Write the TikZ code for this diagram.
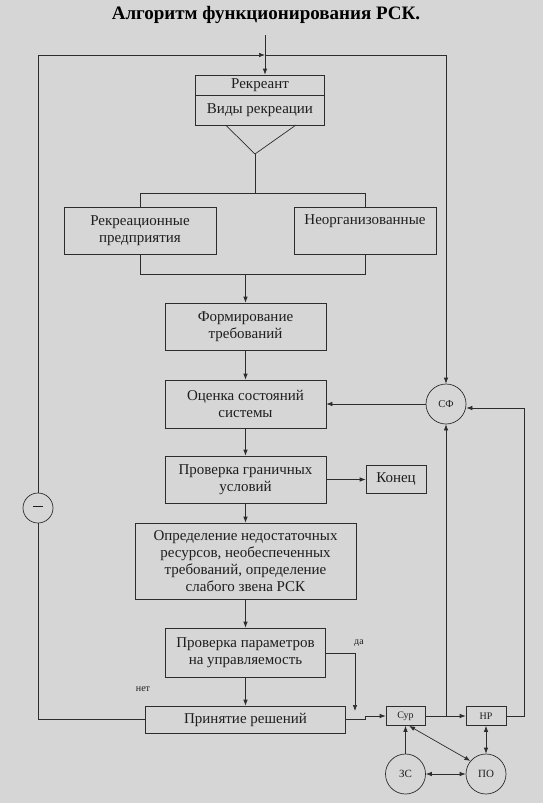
\documentclass[tikz,border=0pt]{standalone}
\usepackage{fontspec}
\setmainfont{Liberation Serif}
\usetikzlibrary{arrows.meta,calc}
\definecolor{bg}{RGB}{214,214,214}
\definecolor{ln}{RGB}{45,45,45}
\definecolor{tx}{RGB}{30,30,30}
\begin{document}
\begin{tikzpicture}[x=1pt,y=-1pt,
  line width=0.7pt, draw=ln,
  arr/.style={-{Latex[length=6pt,width=4.5pt]}},
  darr/.style={{Latex[length=6pt,width=4.5pt]}-{Latex[length=6pt,width=4.5pt]}},
  box/.style={draw=ln, rectangle, inner sep=0pt, align=center, text=tx,
     font=\fontsize{15}{17}\selectfont},
  sbox/.style={draw=ln, rectangle, inner sep=0pt, align=center, text=tx,
     font=\fontsize{10}{12}\selectfont},
  circ/.style={draw=ln, circle, inner sep=0pt, text=tx,
     font=\fontsize{10.5}{12}\selectfont},
  lbl/.style={text=tx, inner sep=0pt, font=\fontsize{10}{12}\selectfont}]
\fill[bg] (0,0) rectangle (543,803);
\useasboundingbox (0,0) rectangle (543,803);

\node[text=black, font=\fontsize{19}{21}\bfseries\selectfont] (title) at (266,15) {Алгоритм функционирования РСК.};

% coordinates
\coordinate (in) at (265,35);
\coordinate (jn) at (265,55);
\coordinate (tl) at (38,55);
\coordinate (tr) at (446,55);
\coordinate (trl) at (225.6,125);
\coordinate (trr) at (296,125);
\coordinate (apex) at (255,154);
\coordinate (hs) at (255,193);
\coordinate (hl) at (140,193);
\coordinate (hr) at (365,193);
\coordinate (bl) at (140,274);
\coordinate (br) at (365,274);
\coordinate (bm) at (245.5,274);

% top boxes
\node[box, minimum width=129.5pt, minimum height=20.5pt] (rekA) at (260,85.25) {Рекреант};
\node[box, minimum width=129.5pt, minimum height=29.5pt] (rekB) at (260,110.25) {Виды рекреации};

\node[box, minimum width=152pt, minimum height=47pt] (rp) at (140,230.5) {Рекреационные\\предприятия};
\node[box, minimum width=142pt, minimum height=47pt] (neo) at (365,230.5) {Неорганизованные\\\strut};

\node[box, minimum width=161pt, minimum height=47pt] (form) at (245.5,326.5) {Формирование\\требований};
\node[box, minimum width=161pt, minimum height=48pt] (ocen) at (245.5,404) {Оценка состояний\\системы};
\node[box, minimum width=161pt, minimum height=47pt] (prov) at (245.5,479.5) {Проверка граничных\\условий};
\node[box, minimum width=60pt, minimum height=28pt] (kon) at (396,479.5) {Конец};
\node[box, minimum width=221pt, minimum height=76pt] (opr) at (245.5,561) {Определение недостаточных\\ресурсов, необеспеченных\\требований, определение\\слабого звена РСК};
\node[box, minimum width=160pt, minimum height=49pt] (par) at (245.5,652.5) {Проверка параметров\\на управляемость};
\node[box, minimum width=200pt, minimum height=27pt] (prin) at (245.5,719.5) {Принятие решений};

\node[sbox, minimum width=39pt, minimum height=19pt] (sur) at (405.5,716) {Сур};
\node[sbox, minimum width=40pt, minimum height=19pt] (nr) at (486,716) {НР};

\node[circ, minimum size=40pt] (sf) at (446,404) {СФ};
\node[circ, minimum size=40pt, font=\fontsize{11}{12}\selectfont] (zs) at (405.5,774) {ЗС};
\node[circ, minimum size=40pt, font=\fontsize{11}{12}\selectfont] (po) at (486,774) {ПО};
\node[circ, minimum size=30pt] (minus) at (38,508) {\raisebox{4pt}{\rule{10pt}{0.8pt}}};

\node[lbl] (da) at (359,643) {да};
\node[lbl] (net) at (143,689) {нет};

% top flow
\draw[arr] (in) -- (in |- rekA.north);
\draw (trl) -- (apex) -- (trr);
\draw (apex) -- (hs);
\draw (hl) -- (hr);
\draw (hl) -- (rp.north);
\draw (hr) -- (neo.north);
\draw (rp.south) -- (bl) -- (br) -- (neo.south);
\draw[arr] (bm) -- (form.north);
\draw[arr] (form.south) -- (ocen.north);
\draw[arr] (ocen.south) -- (prov.north);
\draw[arr] (prov.south) -- (opr.north);
\draw[arr] (opr.south) -- (par.north);
\draw[arr] (par.south) -- (prin.north);
\draw[arr] (prov.east) -- (kon.west);

% left feedback loop
\draw (prin.west) -| (minus.south);
\draw[arr] (minus.north) -- (tl) -- (jn);
\draw[arr] (jn) -- (tr) -- (sf.north);

% yes branch
\coordinate (d1) at (355,653);
\coordinate (d2) at (355,711);
\draw[arr] (par.east |- d1) -- (d1) -- (d2);
\coordinate (j1) at (365,719.5);
\coordinate (j2) at (365,716);
\draw[arr] (prin.east) -- (j1) -- (j2) -- (sur.west);

% right part
\draw[arr] (sur.east) -- (nr.west);
\coordinate (sfb) at (446,716);
\draw[arr] (sfb) -- (sf.south);
\coordinate (r1) at (524,716);
\coordinate (r2) at (524,408);
\draw[arr] (nr.east) -- (r1) -- (r2) -- (sf.east |- r2);
\draw[arr] (sf.west) -- (ocen.east);

\draw[arr] (zs.north) -- (sur.south);
\draw[darr] (sur.290) -- (po.140);
\draw[darr] (nr.south) -- (po.north);
\draw[darr] (zs.east) -- (po.west);
\end{tikzpicture}
\end{document}
